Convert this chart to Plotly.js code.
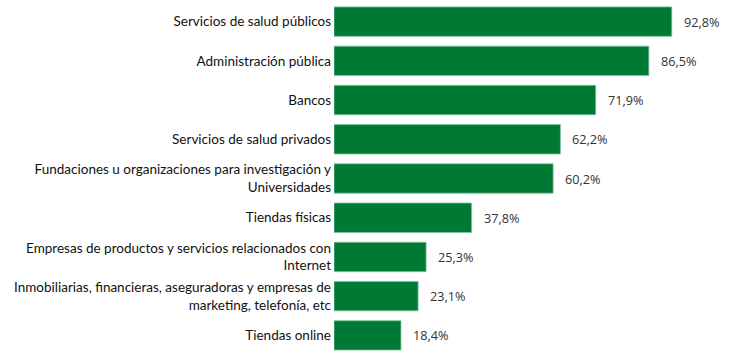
<!DOCTYPE html>
<html>
<head>
<meta charset="utf-8">
<script src="https://cdn.plot.ly/plotly-3.0.1.min.js"></script>
<style>html,body{margin:0;padding:0;background:#fff;}#chart{width:734px;height:358px;}</style>
</head>
<body>
<div id="chart"></div>
<script>
const categories = [
  "Servicios de salud públicos",
  "Administración pública",
  "Bancos",
  "Servicios de salud privados",
  "Fundaciones u organizaciones para investigación y<br>Universidades",
  "Tiendas físicas",
  "Empresas de productos y servicios relacionados con<br>Internet",
  "Inmobiliarias, financieras, aseguradoras y empresas de<br>marketing, telefonía, etc",
  "Tiendas online"
];
const values = [92.8, 86.5, 71.9, 62.2, 60.2, 37.8, 25.3, 23.1, 18.4];
const valueLabels = values.map(v => v.toFixed(1).replace('.', ',') + '%');

const trace = {
  type: 'bar',
  orientation: 'h',
  x: values,
  y: categories,
  width: 0.75,
  marker: {color: '#007934', line: {color: '#7fc49a', width: 0.8}},
  hoverinfo: 'none'
};

const annotations = values.map((v, i) => ({
  x: v, y: categories[i], xref: 'x', yref: 'y',
  text: valueLabels[i], showarrow: false, xanchor: 'left', xshift: 10,
  font: {family: 'Open Sans, sans-serif', size: 12.7, color: '#333333'}
}));

const layout = {
  width: 734, height: 358,
  margin: {l: 334, r: 36, t: 2, b: 3},
  paper_bgcolor: '#fff', plot_bgcolor: '#fff',
  showlegend: false,
  bargap: 0.25,
  xaxis: {range: [0, 100], visible: false, fixedrange: true},
  yaxis: {
    autorange: 'reversed', showgrid: false, zeroline: false, showline: false,
    ticks: '', ticklabelstandoff: 2,
    tickfont: {family: 'Lato, sans-serif', size: 13.5, color: '#111111'}
  },
  annotations: annotations
};

Plotly.newPlot('chart', [trace], layout, {staticPlot: true, displayModeBar: false});
</script>
</body>
</html>
